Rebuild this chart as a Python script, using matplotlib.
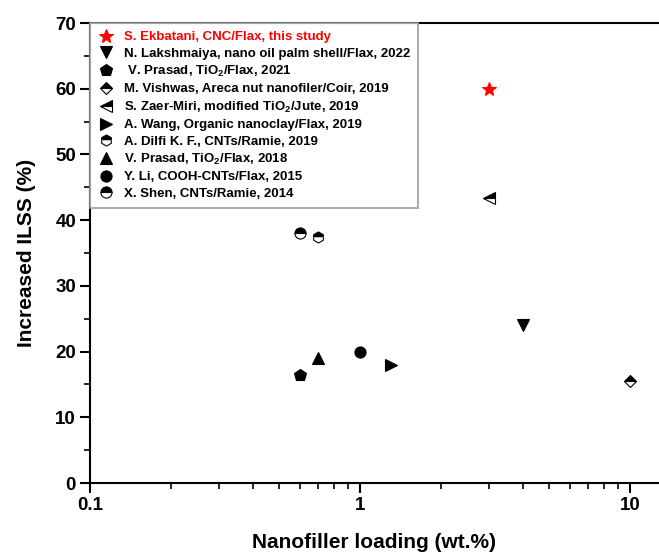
import matplotlib
matplotlib.use("Agg")
import matplotlib.pyplot as plt
from matplotlib.ticker import LogLocator, NullFormatter, MultipleLocator

plt.rcParams['font.family'] = ['Liberation Sans', 'DejaVu Sans']
plt.rcParams['font.weight'] = 'bold'
plt.rcParams['mathtext.fontset'] = 'custom'
plt.rcParams['mathtext.rm'] = 'Liberation Sans:bold'
plt.rcParams['mathtext.bf'] = 'Liberation Sans:bold'
plt.rcParams['mathtext.default'] = 'bf'

labels = [
    "S. Ekbatani, CNC/Flax, this study",
    "N. Lakshmaiya, nano oil palm shell/Flax, 2022",
    " V. Prasad, TiO$_2$/Flax, 2021",
    "M. Vishwas, Areca nut nanofiler/Coir, 2019",
    "S. Zaer-Miri, modified TiO$_2$/Jute, 2019",
    "A. Wang, Organic nanoclay/Flax, 2019",
    "A. Dilfi K. F., CNTs/Ramie, 2019",
    "V. Prasad, TiO$_2$/Flax, 2018",
    "Y. Li, COOH-CNTs/Flax, 2015",
    "X. Shen, CNTs/Ramie, 2014",
]
loading = [3.0, 4.0, 0.6, 10.0, 3.0, 1.3, 0.7, 0.7, 1.0, 0.6]
ilss = [60.0, 24.0, 16.5, 15.5, 43.3, 18.0, 37.5, 19.0, 20.0, 38.0]
markers = ['*', 'v', 'p', 'D', '<', '>', 'h', '^', 'o', 'o']
fills = ['full', 'full', 'full', 'top', 'top', 'full', 'top', 'full', 'full', 'top']
colors = ['red'] + ['black'] * 9
sizes = [10, 9, 9, 6.5, 9, 8.5, 8, 8.5, 8, 8]

fig = plt.figure(figsize=(6.59, 5.55), dpi=100)
ax = fig.add_axes([90/659, 1-483/555, 1-90/659, (483-23)/555])

for lab, x, y, m, fs, c, s in zip(labels, loading, ilss, markers, fills, colors, sizes):
    ax.plot([x], [y], linestyle='none', marker=m, fillstyle=fs, color=c,
            markerfacecolor=c, markerfacecoloralt='white', markeredgecolor=c,
            markeredgewidth=0.8, markersize=s, label=lab)

ax.set_xscale('log')
ax.set_xlim(0.1, 12.8)
ax.set_ylim(0, 70)
ax.set_xticks([0.1, 1, 10])
ax.set_xticklabels(['0.1', '1', '10'])
ax.xaxis.set_minor_locator(LogLocator(base=10, subs=range(2, 10)))
ax.xaxis.set_minor_formatter(NullFormatter())
ax.yaxis.set_major_locator(MultipleLocator(10))
ax.yaxis.set_minor_locator(MultipleLocator(5))

for sp in ['left', 'bottom', 'top']:
    ax.spines[sp].set_linewidth(1.5)
ax.spines['right'].set_visible(False)

ax.tick_params(which='major', direction='out', length=7, width=1.5, labelsize=13.5, pad=3)
ax.tick_params(which='minor', direction='out', length=4, width=1.2)
ax.tick_params(top=False, right=False, which='both')
for t in ax.get_xticklabels() + ax.get_yticklabels():
    t.set_fontweight('bold')

ax.set_xlabel('Nanofiller loading (wt.%)', fontsize=15, fontweight='bold', labelpad=14)
ax.set_ylabel('Increased ILSS (%)', fontsize=15, fontweight='bold', labelpad=14)

leg = ax.legend(loc='upper left', bbox_to_anchor=(0, 1), borderaxespad=0,
                frameon=True, fancybox=False, edgecolor='#999999',
                prop={'size': 9.5, 'weight': 'bold'}, labelspacing=0.32,
                handletextpad=0.8, handlelength=1.2, borderpad=0.6, numpoints=1)
leg.get_frame().set_linewidth(1.5)
for txt, c in zip(leg.get_texts(), colors):
    txt.set_color(c)

fig.savefig('out.png', dpi=100)
